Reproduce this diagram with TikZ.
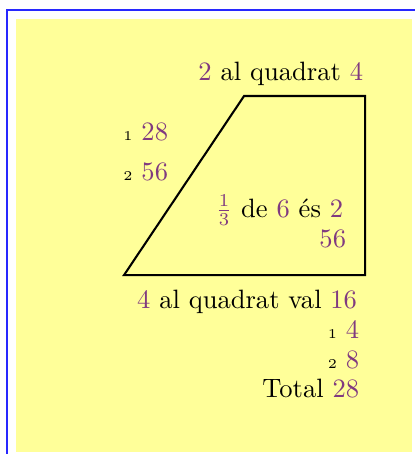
\documentclass[tikz,border=0pt]{standalone}
\usepackage{xcolor}

\definecolor{fonsgroc}{RGB}{255,255,153}
\definecolor{vora}{RGB}{40,40,255}
\definecolor{xifra}{RGB}{128,58,128}

\newcommand{\xf}[1]{\textcolor{xifra}{#1}}
\newcommand{\ix}[1]{{\fontsize{5.2pt}{6pt}\selectfont #1}\ }

\begin{document}
\begin{tikzpicture}[
every node/.style={
inner sep=0pt,
outer sep=0pt,
font=\fontsize{10.25pt}{12pt}\selectfont
},
dreta/.style={anchor=base east},
costat/.style={draw=black, line width=0.8pt, line join=miter}
]

\useasboundingbox (0,0) rectangle (5.63,-6.16);
\fill[white] (0,0) rectangle (5.63,-6.16);

\draw[vora, line width=0.6pt] (0.095,-6.16) -- (0.095,-0.136) -- (5.63,-0.136);
\fill[fonsgroc] (0.217,-0.258) rectangle (5.591,-6.134);

\coordinate (A) at (3.311,-1.303);
\coordinate (B) at (4.953,-1.303);
\coordinate (C) at (4.953,-3.732);
\coordinate (D) at (1.683,-3.732);

\draw[costat] (A) -- (B) -- (C) -- (D) -- cycle;

\node[dreta] (Q) at (4.926,-1.099) {\xf{2} al quadrat \xf{4}};

\node[dreta] (P1) at (2.280,-1.913) {\ix{1}\xf{28}};
\node[dreta] (P2) at (2.280,-2.443) {\ix{2}\xf{56}};

\node[dreta] (F) at (4.655,-2.945) {\xf{$\frac{1}{3}$} de \xf{6} és \xf{2}};
\node[dreta] (R) at (4.695,-3.352) {\xf{56}};

\node[dreta] (V) at (4.844,-4.180) {\xf{4} al quadrat val \xf{16}};
\node[dreta] (S1) at (4.872,-4.587) {\ix{1}\xf{4}};
\node[dreta] (S2) at (4.872,-4.994) {\ix{2}\xf{8}};
\node[dreta] (T) at (4.872,-5.387) {Total \xf{28}};

\end{tikzpicture}
\end{document}
